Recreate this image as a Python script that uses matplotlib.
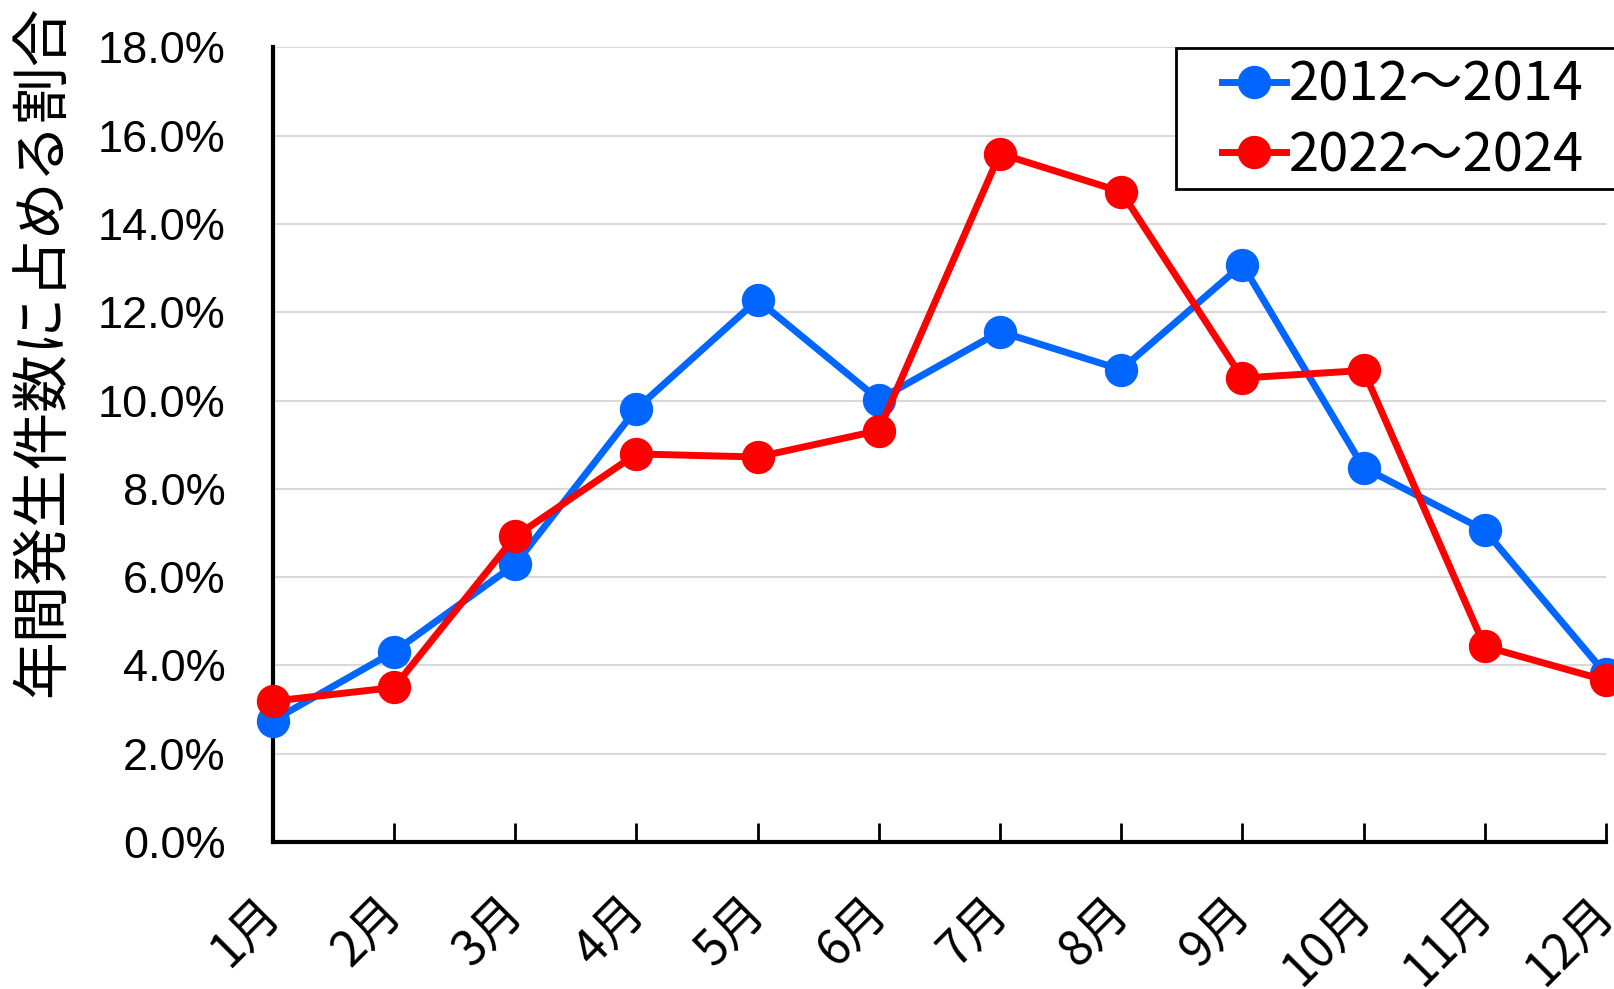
import numpy as np
import matplotlib
matplotlib.use('Agg')
from matplotlib import pyplot as plt
from matplotlib.patches import Rectangle
import matplotlib.transforms as mtransforms

plt.rcParams['font.family'] = ['Liberation Sans', 'Noto Sans CJK JP', 'DejaVu Sans']

meses = ['1月', '2月', '3月', '4月', '5月', '6月', '7月', '8月', '9月', '10月', '11月', '12月']
serie1 = [2.75, 4.31, 6.29, 9.81, 12.28, 10.02, 11.56, 10.70, 13.08, 8.48, 7.06, 3.80]   # 2012～2014
serie2 = [3.19, 3.50, 6.92, 8.79, 8.72, 9.32, 15.59, 14.73, 10.51, 10.68, 4.43, 3.66]    # 2022～2024
etiq1 = '2012～2014'
etiq2 = '2022～2024'
yticks = np.arange(0, 18.1, 2)

W, H = 1614, 989
fig = plt.figure(figsize=(W/100, H/100), dpi=100)
ax = fig.add_axes([0.169, 0.1486, 0.826, 0.8036])
x = np.arange(len(meses))
ax.plot(x, serie1, color='#0066FF', lw=5, marker='o', ms=23, label=etiq1, clip_on=False, zorder=3)
ax.plot(x, serie2, color='#FF0000', lw=5, marker='o', ms=23, label=etiq2, clip_on=False, zorder=4)

ax.set_xlim(0, 11)
ax.set_ylim(0, 18)
ax.set_yticks(yticks)
ax.set_yticklabels(['%.1f%%' % v for v in yticks], fontsize=32.5)
ax.set_xticks(x)
ax.set_xticklabels(meses, fontsize=35, family=['Noto Sans CJK JP'], rotation=45,
                   ha='right', va='center', rotation_mode='anchor')
desp = mtransforms.ScaledTranslation(-15/100, 0, fig.dpi_scale_trans)
for t in ax.get_xticklabels():
    t.set_transform(t.get_transform() + desp)
ax.tick_params(axis='y', length=0, pad=34)
ax.tick_params(axis='x', direction='in', length=14, width=2, pad=45)
ax.grid(axis='y', color='#d9d9d9', lw=1.5)
ax.set_axisbelow(True)
for s in ['top', 'right']:
    ax.spines[s].set_visible(False)
for s in ['left', 'bottom']:
    ax.spines[s].set_linewidth(3)

ax.set_ylabel('年間発生件数に占める割合', fontsize=41.5, family=['Noto Sans CJK JP'])
ax.yaxis.set_label_coords(-0.1506, 0.617)

# leyenda: marco dibujado a mano (sale por la derecha de la figura)
fig.patches.append(Rectangle((1175.5/W, 1-189.4/H), 0.3, 141/H, transform=fig.transFigure,
                             facecolor='white', edgecolor='black', lw=2, zorder=5))
leg = fig.legend(loc='center left', bbox_to_anchor=(1222/W, 1-120.4/H),
                 prop={'family': ['Noto Sans CJK JP'], 'size': 39},
                 frameon=False, handlelength=1.18, handletextpad=0.05,
                 borderpad=0, labelspacing=0.29, borderaxespad=0)
leg.set_zorder(6)

fig.savefig('out.png', dpi=100)
